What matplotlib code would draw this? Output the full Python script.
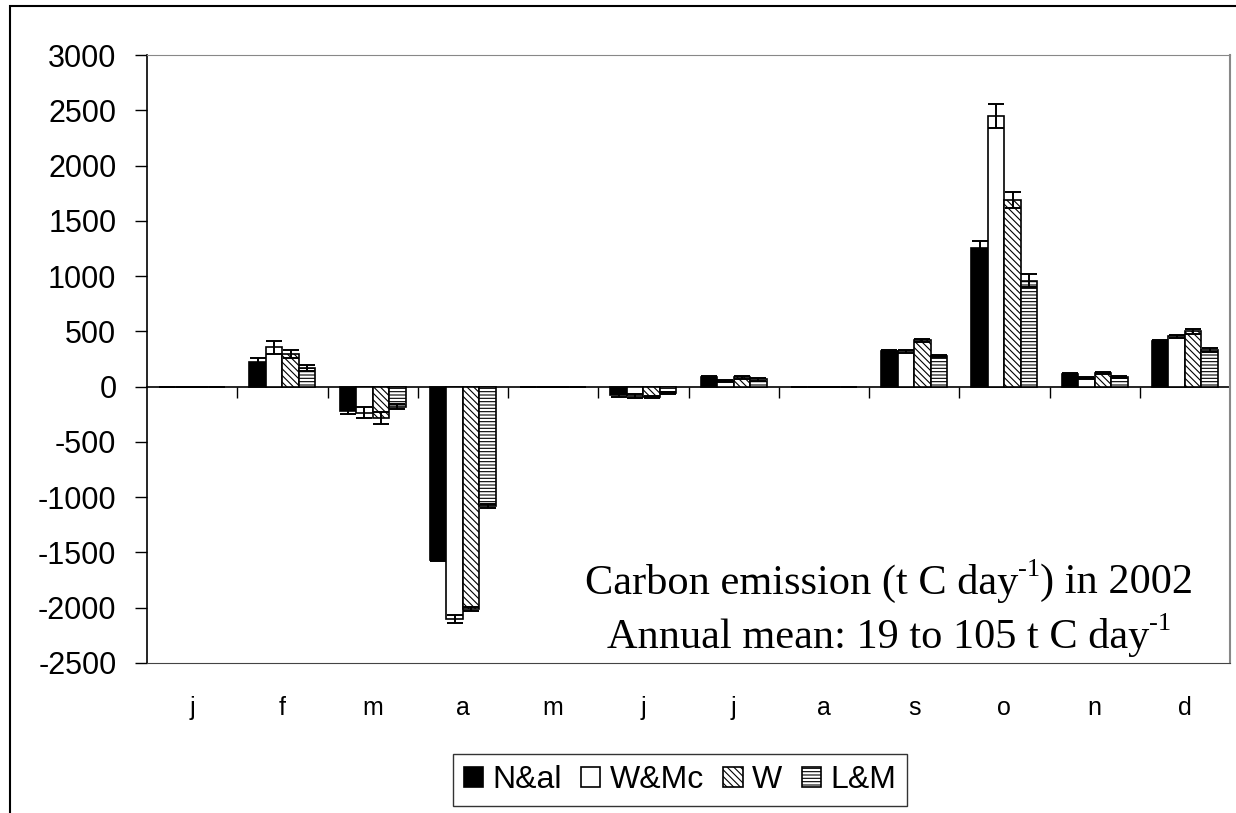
import numpy as np
import matplotlib.pyplot as plt
from matplotlib.patches import Rectangle

# monthly carbon emission (t C / day), 2002
months = ['j', 'f', 'm', 'a', 'm', 'j', 'j', 'a', 's', 'o', 'n', 'd']
series = ['N&al', 'W&Mc', 'W', 'L&M']

n_al = [0, 225, -220, -1565, 0, -80, 90, 0, 320, 1250, 112, 410]
w_mc = [0, 355, -235, -2105, 0, -85, 50, 0, 320, 2450, 78, 455]
w = [0, 295, -280, -2010, 0, -95, 85, 0, 420, 1690, 120, 500]
l_m = [0, 170, -180, -1080, 0, -55, 65, 0, 275, 960, 90, 330]

n_al_err = [0, 30, 30, 15, 0, 10, 10, 0, 15, 70, 10, 15]
w_mc_err = [0, 60, 50, 35, 0, 15, 10, 0, 15, 110, 10, 15]
w_err = [0, 35, 55, 20, 0, 10, 15, 0, 15, 70, 10, 20]
l_m_err = [0, 25, 25, 15, 0, 10, 10, 0, 10, 60, 10, 15]

values = [n_al, w_mc, w, l_m]
errors = [n_al_err, w_mc_err, w_err, l_m_err]
colors = ['black', 'white', 'white', 'white']
hatches = [None, None, '\\\\\\\\\\', '-----']

plt.rcParams['hatch.linewidth'] = 0.8
plt.rcParams['axes.unicode_minus'] = False

fig = plt.figure(figsize=(12.36, 8.13), dpi=100)
ax = fig.add_axes([147 / 1236, 1 - 663 / 813, (1230 - 147) / 1236, (663 - 55) / 813])

x = np.arange(len(months))
bw = 0.183
for i, (vals, errs) in enumerate(zip(values, errors)):
    pos = x + (i - 1.5) * bw
    ax.bar(pos, vals, bw, color=colors[i], edgecolor='black', linewidth=1.2,
           hatch=hatches[i], label=series[i], zorder=2)
    ax.errorbar(pos, vals, yerr=errs, fmt='none', ecolor='black',
                elinewidth=1.4, capsize=5.5, capthick=1.4, zorder=3)

ax.set_xlim(-0.5, 11.5)
ax.set_ylim(-2500, 3000)
ax.set_yticks(np.arange(-2500, 3001, 500))
ax.tick_params(axis='y', direction='out', length=9, width=1, labelsize=22, pad=13)
for lab in ax.get_yticklabels():
    lab.set_fontfamily('Liberation Sans')

# month labels under the plot area
ax.set_xticks(x)
ax.set_xticklabels(months, fontfamily='Liberation Sans', fontsize=18)
ax.tick_params(axis='x', length=0, pad=24)

ax.spines['left'].set_linewidth(1.2)
ax.spines['top'].set_color('#888888')
ax.spines['right'].set_color('#888888')
ax.spines['right'].set_linewidth(1.5)
ax.spines['bottom'].set_color('#444444')

# category axis crossing at zero
zax = ax.secondary_xaxis(0, transform=ax.transData)
zax.set_xticks(np.arange(0.5, 11.5, 1))
zax.tick_params(axis='x', direction='out', length=8, width=1, labelbottom=False)
zax.spines['bottom'].set_linewidth(1.2)


def sup_line(parts, xc, yc, size):
    # draw a centred line made of (text, is_superscript) pieces
    fig.canvas.draw()
    r = fig.canvas.get_renderer()
    y0 = 1 - yc / 813
    arts = []
    xpos = 0
    for s, sup in parts:
        t = fig.text(0, y0 + (0.016 if sup else 0), s, fontfamily='Liberation Serif',
                     fontsize=size * (0.62 if sup else 1), ha='left', va='center')
        w_px = t.get_window_extent(r).width
        arts.append((t, xpos))
        xpos += w_px
    left = xc - xpos / 2
    for t, off in arts:
        t.set_x((left + off) / 1236)


sup_line([('Carbon emission (t C day', False), ('-1', True), (') in 2002', False)], 889, 583, 30.5)
sup_line([('Annual mean: 19 to 105 t C day', False), ('-1', True)], 889, 637, 30.5)

leg = fig.legend(loc='center', bbox_to_anchor=(680 / 1236, 1 - 780 / 813), ncol=4,
                 prop={'family': 'Liberation Sans', 'size': 23}, frameon=True,
                 fancybox=False, edgecolor='black', handlelength=0.6, handleheight=0.6,
                 handletextpad=0.3, columnspacing=0.6, borderpad=0.35)
leg.get_frame().set_linewidth(1)

# outer chart border
fig.patches.append(Rectangle((10 / 1236, -0.1), 1.2, 1.1 - 6 / 813, transform=fig.transFigure,
                             fill=False, edgecolor='black', linewidth=1.5))

fig.savefig('out.png', dpi=100)
